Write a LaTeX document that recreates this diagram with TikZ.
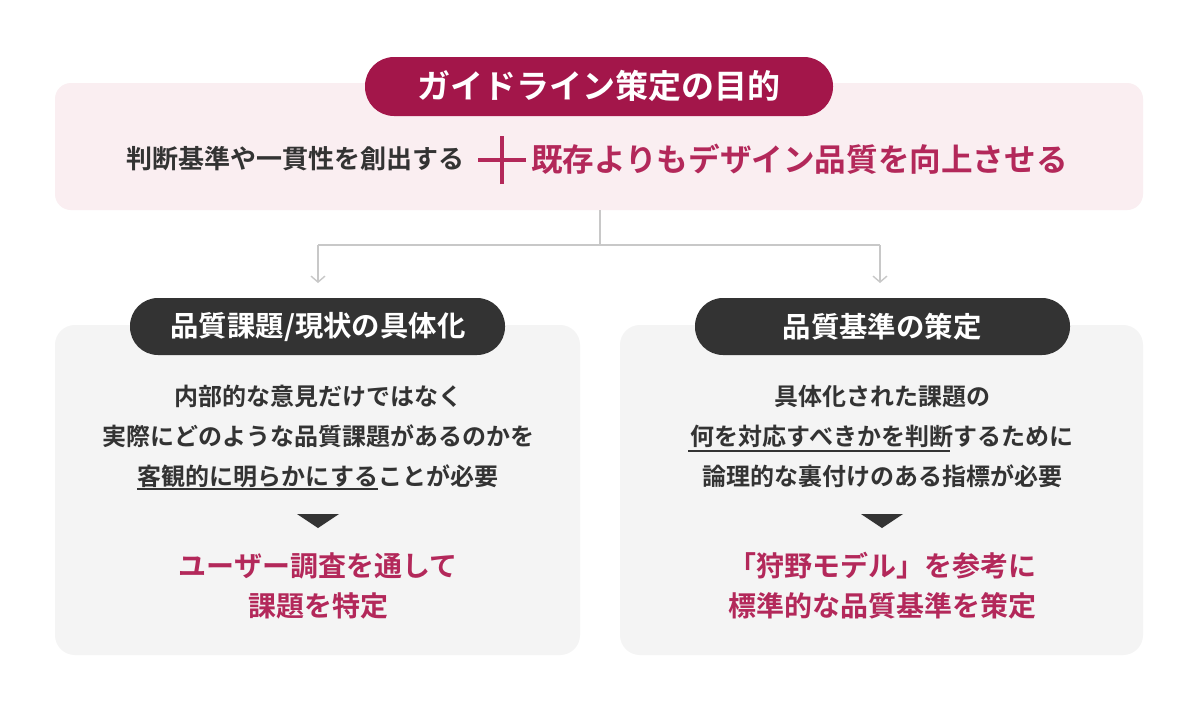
\documentclass[tikz,border=0pt]{standalone}
\usepackage{fontspec}
\usetikzlibrary{arrows.meta}
\setmainfont{Noto Sans CJK JP}[BoldFont={* Bold}]
\definecolor{mag}{HTML}{A3164A}
\definecolor{magt}{HTML}{B3285A}
\definecolor{pinkbg}{HTML}{FAEEF1}
\definecolor{graybg}{HTML}{F4F4F4}
\definecolor{darkp}{HTML}{333333}
\definecolor{txt}{HTML}{333333}
\definecolor{lin}{HTML}{C8C8C8}
\begin{document}
\begin{tikzpicture}[x=0.5pt,y=-0.5pt,
  body/.style={text=txt,font=\bfseries\fontsize{12}{20}\selectfont,align=center},
  red/.style={text=magt,font=\bfseries\fontsize{14}{20}\selectfont,align=center},
  conn/.style={lin,line width=0.7pt},
  arr/.style={conn,-{Straight Barb[length=3pt,width=7pt]}}]
\useasboundingbox (0,0) rectangle (1200,713);
\fill[white] (0,0) rectangle (1200,713);
% top
\fill[pinkbg,rounded corners=8pt] (55,83) rectangle (1143,210);
\fill[mag,rounded corners=14.5pt] (365,57) rectangle (833,116);
\node[text=white,font=\bfseries\fontsize{16.5}{18}\selectfont] (title) at (599,86) {ガイドライン策定の目的};
\node[anchor=east,text=txt,font=\bfseries\fontsize{13}{14}\selectfont] (l) at (472,159) {判断基準や一貫性を創出する};
\coordinate (pc) at (502,160);
\draw[magt,line width=2.3pt] ([xshift=-12]pc) -- ([xshift=12]pc) ([yshift=-12]pc) -- ([yshift=12]pc);
\node[anchor=west,text=magt,font=\bfseries\fontsize{15.8}{17}\selectfont] (r) at (524,159) {既存よりもデザイン品質を向上させる};
\coordinate (top) at (600,210);
\coordinate (mid) at (600,245);
\coordinate (ml) at (318,245);
\coordinate (mr) at (880,245);
\coordinate (al) at (318,283);
\coordinate (ar) at (880,283);
\draw[conn] (top) -- (mid) (ml) -- (mr);
\draw[arr] (ml) -- (al);
\draw[arr] (mr) -- (ar);
% boxes
\fill[graybg,rounded corners=10pt] (55,325) rectangle (580,655);
\fill[graybg,rounded corners=10pt] (620,325) rectangle (1143,655);
\fill[darkp,rounded corners=14pt] (130,298) rectangle (505,355);
\fill[darkp,rounded corners=14pt] (695,298) rectangle (1070,355);
\node[text=white,font=\bfseries\fontsize{14.2}{16}\selectfont] (h1) at (318,327) {品質課題/現状の具体化};
\node[text=white,font=\bfseries\fontsize{14.2}{16}\selectfont] (h2) at (882,327) {品質基準の策定};
\node[body] (b1) at (318,436) {内部的な意見だけではなく\\実際にどのような品質課題があるのかを\\客観的に明らかにすることが必要};
\node[body] (b2) at (882,436) {具体化された課題の\\何を対応すべきかを判断するために\\論理的な裏付けのある指標が必要};
\draw[txt,line width=0.6pt] (137,489) -- (378,489);
\draw[txt,line width=0.6pt] (688,451) -- (950,451);
\fill[darkp] (297,514) -- (339,514) -- (318,528) -- cycle;
\fill[darkp] (861,514) -- (903,514) -- (882,528) -- cycle;
\node[red] (r1) at (318,586) {ユーザー調査を通して\\課題を特定};
\node[red] (r2) at (882,586) {「狩野モデル」を参考に\\標準的な品質基準を策定};
\end{tikzpicture}
\end{document}
